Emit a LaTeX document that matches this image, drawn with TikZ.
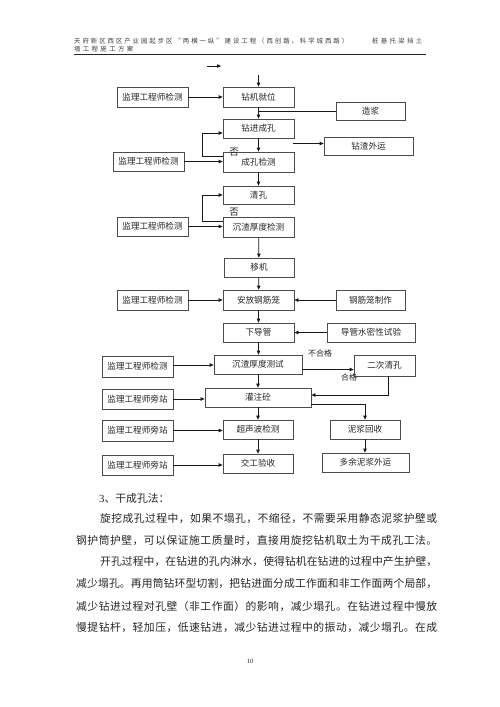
\documentclass[tikz,border=0pt]{standalone}
\usepackage{fontspec}
\setmainfont{Liberation Serif}
\newfontfamily\cjk{Noto Sans CJK SC}
\usetikzlibrary{arrows.meta}
\def\spr#1{\ifx#1\relax\unskip\else#1\hfil\expandafter\spr\fi}
\newcommand\sline[2]{\makebox[#1][s]{\spr#2\relax}}
\tikzset{
  box/.style={draw=black!70, line width=0.7pt, inner sep=0pt, font=\cjk\fontsize{8.6}{9}\selectfont, text=black!85},
  arr/.style={draw=black!90, line width=0.7pt, -{Triangle[length=4pt,width=3.4pt]}},
  ln/.style={draw=black!90, line width=0.7pt},
  lab/.style={font=\cjk\fontsize{8}{9}\selectfont, text=black!85, inner sep=0pt},
  body/.style={font=\cjk\fontsize{10.8}{12}\selectfont, text=black!85, inner sep=0pt, anchor=west},
  head/.style={font=\cjk\fontsize{6.4}{7}\selectfont, text=black!75, inner sep=0pt, anchor=west},
}
\begin{document}
\begin{tikzpicture}[x=1pt,y=-1pt]
\fill[white] (0,0) rectangle (500,707);
\useasboundingbox (0,0) rectangle (500,707);

% header
\node[head] (h1) at (74,41) {\sline{274pt}{天府新区西区产业园起步区“两横一纵”建设工程（西创路、科学城西路）}};
\node[head] (h2) at (372,41) {\sline{50pt}{桩基托梁挡土}};
\node[head] (h3) at (74,49.5) {\sline{59pt}{墙工程施工方案}};
\coordinate (hl1) at (74,54);
\coordinate (hl2) at (426,54);
\draw[line width=1pt, black!85] (hl1) -- (hl2);

% boxes
\node[box, minimum width=71pt, minimum height=20pt] (zjjw) at (258.5,97) {钻机就位};
\node[box, minimum width=71pt, minimum height=20pt] (m1) at (152.5,97) {监理工程师检测};
\node[box, minimum width=71pt, minimum height=19pt] (zjck) at (258.5,128.5) {钻进成孔};
\node[box, minimum width=69pt, minimum height=18pt] (zj) at (370.5,111) {造浆};
\node[box, minimum width=89pt, minimum height=18pt] (zzwy) at (368.5,146) {钻渣外运};
\node[box, minimum width=71pt, minimum height=20pt] (ckjc) at (258.5,162) {成孔检测};
\node[box, minimum width=71pt, minimum height=19pt] (m2) at (148.5,161.5) {监理工程师检测};
\node[box, minimum width=71pt, minimum height=18pt] (qk) at (258.5,195) {清孔};
\node[box, minimum width=71pt, minimum height=20pt] (czhd) at (258.5,227) {沉渣厚度检测};
\node[box, minimum width=71pt, minimum height=19pt] (m3) at (152.5,226.5) {监理工程师检测};
\node[box, minimum width=70pt, minimum height=19pt] (yj) at (259,267.5) {移机};
\node[box, minimum width=71pt, minimum height=20pt] (afgjl) at (258.5,300) {安放钢筋笼};
\node[box, minimum width=71pt, minimum height=20pt] (m4) at (152.5,300) {监理工程师检测};
\node[box, minimum width=69pt, minimum height=20pt] (gjlzz) at (370.5,300) {钢筋笼制作};
\node[box, minimum width=71pt, minimum height=19pt] (xdg) at (258.5,332.5) {下导管};
\node[box, minimum width=88pt, minimum height=19pt] (dgsm) at (371,332.5) {导管水密性试验};
\node[box, minimum width=88pt, minimum height=19pt] (czcs) at (258,364.5) {沉渣厚度测试};
\node[box, minimum width=71pt, minimum height=21pt] (m5) at (137.5,366.5) {监理工程师检测};
\node[box, minimum width=61pt, minimum height=21pt] (ecqk) at (384.5,365.5) {二次清孔};
\node[box, minimum width=106pt, minimum height=19pt] (gzt) at (258,397.5) {灌注砼};
\node[box, minimum width=71pt, minimum height=20pt] (m6) at (137.5,399) {监理工程师旁站};
\node[box, minimum width=70pt, minimum height=19pt] (csb) at (258,429.5) {超声波检测};
\node[box, minimum width=70pt, minimum height=19pt] (njhs) at (365,429.5) {泥浆回收};
\node[box, minimum width=71pt, minimum height=21pt] (m7) at (137.5,430.5) {监理工程师旁站};
\node[box, minimum width=70pt, minimum height=19pt] (jgys) at (258,463.5) {交工验收};
\node[box, minimum width=87pt, minimum height=19pt] (dynj) at (365.5,462.5) {多余泥浆外运};
\node[box, minimum width=71pt, minimum height=20pt] (m8) at (137.5,465) {监理工程师旁站};

% labels
\node[lab, font=\cjk\fontsize{9.5}{10}\selectfont] (no1) at (234,152) {否};
\node[lab, font=\cjk\fontsize{9.5}{10}\selectfont] (no2) at (234,212) {否};
\node[lab] (bhg) at (320,353) {不合格};
\node[lab] (hg) at (349,377.5) {合格};

% connectors
\coordinate (t1) at (207,66);
\coordinate (t2) at (221,66);
\draw[arr] (t1) -- (t2);
\coordinate (t3) at (258.5,75);
\draw[arr] (t3) -- (zjjw.north);
\draw[arr] (m1) -- (zjjw);
\draw[arr] (zjjw) -- (zjck);
\draw[ln] (zj.west) -- (zj.west -| zjjw.south);
\coordinate (zf) at (293,143.5);
\draw[arr] (zf) -- (zf -| zzwy.west);
\draw[arr] (zjck) -- (ckjc);
\draw[arr] ([yshift=6pt]ckjc.west) -- ++(-20,0) |- ([yshift=-4.5pt]zjck.west);
\draw[arr] (m2.east) -- (m2.east -| ckjc.west);
\draw[arr] (ckjc) -- (qk);
\draw[arr] ([yshift=6pt]czhd.west) -- ++(-20,0) |- (qk.west);
\draw[arr] (m3.east) -- (m3.east -| czhd.west);
\draw[arr] (czhd) -- (yj);
\draw[arr] (yj) -- (afgjl);
\draw[arr] (m4) -- (afgjl);
\draw[arr] (gjlzz) -- (afgjl);
\draw[arr] (afgjl) -- (xdg);
\draw[arr] (dgsm) -- (xdg);
\draw[arr] (xdg.south) -- (xdg.south |- czcs.north);
\draw[arr] ([yshift=1.5pt]m5.east) -- ([yshift=1.5pt]m5.east -| czcs.west);
\draw[arr] ([yshift=-5pt]czcs.east) -- ([yshift=-5pt]czcs.east -| ecqk.west);
\draw[arr] ([xshift=3.5pt]ecqk.south) |- ([yshift=2.5pt]gzt.east);
\draw[arr] (czcs) -- (gzt);
\draw[arr] (m6.east) -- (m6.east -| gzt.west);
\draw[arr] ([yshift=-6.5pt]gzt.east) -| (njhs.north);
\draw[arr] (gzt) -- (csb);
\draw[arr] (m7.east) -- (m7.east -| csb.west);
\draw[arr] (csb) -- (jgys);
\draw[arr] (njhs.south) -- (njhs.south |- dynj.north);
\draw[arr] (m8.east) -- (m8.east -| jgys.west);

% body text
\node[body] (s3) at (99,498) {{\rmfamily 3}、干成孔法：};
\node[body] (l1) at (100,518) {\sline{337pt}{旋挖成孔过程中，如果不塌孔，不缩径，不需要采用静态泥浆护壁或}};
\node[body] (l2) at (76,540) {\sline{361pt}{钢护筒护壁，可以保证施工质量时，直接用旋挖钻机取土为干成孔工法。}};
\node[body] (l3) at (100,562) {\sline{337pt}{开孔过程中，在钻进的孔内淋水，使得钻机在钻进的过程中产生护壁，}};
\node[body] (l4) at (76,584) {\sline{361pt}{减少塌孔。再用筒钻环型切割，把钻进面分成工作面和非工作面两个局部，}};
\node[body] (l5) at (76,606) {\sline{361pt}{减少钻进过程对孔壁（非工作面）的影响，减少塌孔。在钻进过程中慢放}};
\node[body] (l6) at (76,628) {\sline{361pt}{慢提钻杆，轻加压，低速钻进，减少钻进过程中的振动，减少塌孔。在成}};
\node[font=\rmfamily\fontsize{6.5}{7}\selectfont, text=black!85] (pg) at (250,661) {10};
\end{tikzpicture}
\end{document}
